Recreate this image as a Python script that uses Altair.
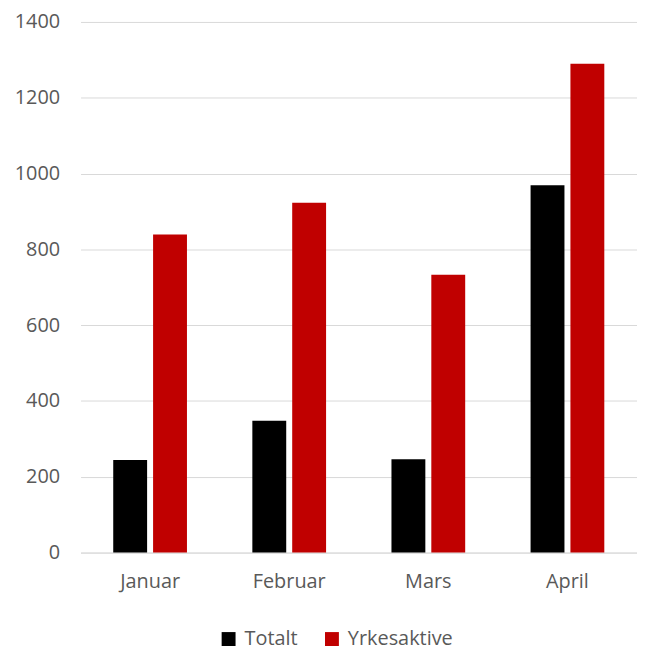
import altair as alt
import pandas as pd

months = ["Januar", "Februar", "Mars", "April"]
series = ["Totalt", "Yrkesaktive"]
totalt = [244, 348, 246, 969]
yrkesaktive = [839, 923, 733, 1290]
colors = ["#000000", "#C00000"]

rows = []
for m, t, y in zip(months, totalt, yrkesaktive):
    rows.append({"Måned": m, "Serie": series[0], "Verdi": t})
    rows.append({"Måned": m, "Serie": series[1], "Verdi": y})
df = pd.DataFrame(rows)

font = "Open Sans"
fs = 20
chart = alt.Chart(df).mark_bar().encode(
    x=alt.X("Måned:N", sort=months, title=None,
            scale=alt.Scale(paddingInner=0.47, paddingOuter=0.235),
            axis=alt.Axis(labelAngle=0, ticks=False, domain=True, domainColor="#d9d9d9",
                          labelFont=font, labelFontSize=fs, labelColor="#595959",
                          labelPadding=19)),
    xOffset=alt.XOffset("Serie:N", sort=series,
                        scale=alt.Scale(paddingInner=0.15, paddingOuter=0)),
    y=alt.Y("Verdi:Q", title=None,
            scale=alt.Scale(domain=[0, 1400]),
            axis=alt.Axis(values=[0, 200, 400, 600, 800, 1000, 1200, 1400], format="d",
                          ticks=False, domain=False, gridColor="#d9d9d9",
                          labelFont=font, labelFontSize=fs, labelColor="#595959",
                          labelPadding=21)),
    color=alt.Color("Serie:N", sort=series,
                    scale=alt.Scale(domain=series, range=colors),
                    legend=alt.Legend(title=None, orient="none", direction="horizontal",
                                      legendX=139, legendY=611,
                                      symbolType="square", symbolSize=196,
                                      labelFont=font, labelFontSize=fs, labelColor="#595959",
                                      labelOffset=6, columnPadding=24, symbolOpacity=1)),
).properties(width=560, height=534, padding={"left": 6, "top": 2, "right": 0, "bottom": 0}
).configure_view(stroke=None)

chart.save("out.html", embed_options={"renderer": "svg", "actions": False})
